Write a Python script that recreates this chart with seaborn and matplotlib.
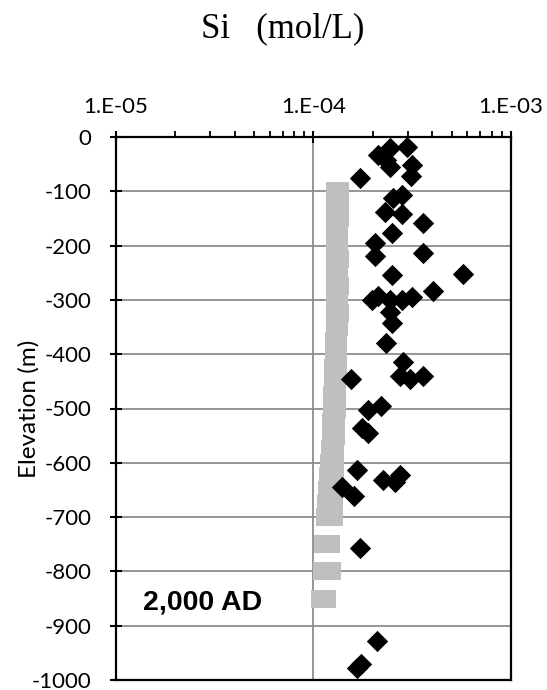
import matplotlib
matplotlib.use("Agg")
import matplotlib.pyplot as plt
import numpy as np
import pandas as pd
import seaborn as sns
from matplotlib.ticker import FixedLocator, FuncFormatter, LogLocator, NullFormatter

# Measured dissolved Si in groundwater samples
obs_elev = [-20, -18, -34, -42, -56, -51, -71, -75, -112, -106,
            -139, -141, -158, -176, -196, -219, -213, -254, -252, -283,
            -300, -292, -300, -300, -294, -323, -342, -379, -414, -441,
            -445, -441, -445, -502, -495, -535, -546, -614, -644, -662,
            -631, -622, -635, -757, -929, -971, -978]
obs_si = [2.43e-4, 2.97e-4, 2.11e-4, 2.32e-4, 2.43e-4, 3.14e-4, 3.11e-4, 1.71e-4, 2.52e-4, 2.80e-4,
          2.29e-4, 2.80e-4, 3.58e-4, 2.49e-4, 2.06e-4, 2.04e-4, 3.58e-4, 2.49e-4, 5.70e-4, 4.02e-4,
          1.97e-4, 2.11e-4, 2.43e-4, 2.80e-4, 3.14e-4, 2.43e-4, 2.49e-4, 2.32e-4, 2.83e-4, 2.73e-4,
          3.07e-4, 3.58e-4, 1.54e-4, 1.88e-4, 2.19e-4, 1.77e-4, 1.88e-4, 1.67e-4, 1.40e-4, 1.61e-4,
          2.24e-4, 2.73e-4, 2.58e-4, 1.71e-4, 2.09e-4, 1.73e-4, 1.67e-4]

# Simulated Si profile at 2,000 AD: lower and upper value at each elevation
model_elev = [-100, -125, -150, -175, -200, -225, -250, -275, -300, -325,
              -350, -375, -400, -425, -450, -475, -500, -525, -550, -575,
              -600, -625, -650, -675, -700, -750, -800, -850]
model_si_low = [1.289e-4, 1.289e-4, 1.289e-4, 1.286e-4, 1.286e-4, 1.283e-4, 1.283e-4, 1.281e-4, 1.278e-4, 1.278e-4,
                1.278e-4, 1.271e-4, 1.263e-4, 1.256e-4, 1.248e-4, 1.241e-4, 1.234e-4, 1.227e-4, 1.220e-4, 1.206e-4,
                1.192e-4, 1.182e-4, 1.171e-4, 1.160e-4, 1.150e-4, 1.111e-4, 1.098e-4, 1.085e-4]
model_si_high = [1.355e-4, 1.363e-4, 1.355e-4, 1.347e-4, 1.350e-4, 1.355e-4, 1.347e-4, 1.355e-4, 1.344e-4, 1.360e-4,
                 1.339e-4, 1.335e-4, 1.332e-4, 1.324e-4, 1.319e-4, 1.313e-4, 1.309e-4, 1.301e-4, 1.293e-4, 1.289e-4,
                 1.283e-4, 1.278e-4, 1.271e-4, 1.263e-4, 1.263e-4, 1.220e-4, 1.234e-4, 1.164e-4]

x_ticks = [1e-5, 1e-4, 1e-3]
y_ticks = list(range(0, -1001, -100))

obs = pd.DataFrame({"elev": obs_elev, "si": obs_si})
model = pd.DataFrame({
    "elev": model_elev + model_elev,
    "si": model_si_low + model_si_high,
})

sns.set_style("white")
plt.rcParams["font.family"] = ["Lato", "DejaVu Sans"]
plt.rcParams["axes.unicode_minus"] = False

fig = plt.figure(figsize=(5.47, 6.90), dpi=100)
ax = fig.add_axes([116 / 547, 10 / 690, 395 / 547, 543 / 690])

sns.scatterplot(data=model, x="si", y="elev", marker="s", s=162,
                color="#BFBFBF", linewidth=0, legend=False, ax=ax, zorder=3)
sns.scatterplot(data=obs, x="si", y="elev", marker="D", s=118,
                color="black", linewidth=0, legend=False, ax=ax, zorder=4)

ax.set_xscale("log")
ax.set_xlim(1e-5, 1e-3)
ax.set_ylim(-1000, 0)

# x axis on top with Excel-style scientific labels
ax.xaxis.tick_top()
ax.xaxis.set_major_locator(FixedLocator(x_ticks))
ax.xaxis.set_major_formatter(FuncFormatter(lambda v, p: "1.E-%02d" % round(-np.log10(v))))
ax.xaxis.set_minor_locator(LogLocator(base=10, subs=np.arange(2, 10)))
ax.xaxis.set_minor_formatter(NullFormatter())
ax.yaxis.set_major_locator(FixedLocator(y_ticks))

ax.tick_params(axis="x", which="major", direction="inout", length=9, width=1.5,
               color="black", top=True, bottom=False, labeltop=True,
               labelbottom=False, labelsize=16, pad=10, labelcolor="black")
ax.tick_params(axis="x", which="minor", direction="out", length=4, width=1.3,
               color="black", top=True, bottom=False)
ax.tick_params(axis="y", which="major", direction="inout", length=9, width=1.5,
               color="black", left=True, right=False, labelsize=16, pad=13,
               labelcolor="black")

ax.grid(False)
ax.yaxis.grid(True, color="#8C8C8C", linewidth=1.3, zorder=1)
ax.xaxis.grid(True, which="major", color="#8C8C8C", linewidth=1.3, zorder=1)
ax.set_axisbelow(True)

for side in ["left", "right", "top", "bottom"]:
    ax.spines[side].set_visible(True)
    ax.spines[side].set_color("black")
    ax.spines[side].set_linewidth(1.6)

ax.set_xlabel("")
ax.set_ylabel("Elevation (m)", fontsize=17.5, color="black")
ax.yaxis.label.set_verticalalignment("center")
ax.yaxis.set_label_coords(-0.22, 0.5)

ax.text(143 / 395 - 116 / 395, 0.129, "2,000 AD", transform=ax.transAxes,
        ha="left", va="baseline", fontsize=20.5, fontweight="bold",
        family=["Liberation Sans", "DejaVu Sans"], color="black", zorder=5)

fig.text(282.5 / 547, 1 - 29 / 690, "Si   (mol/L)", ha="center", va="center",
         fontsize=25, family=["Liberation Serif", "DejaVu Serif"], color="black")

fig.savefig("out.png", dpi=100)
